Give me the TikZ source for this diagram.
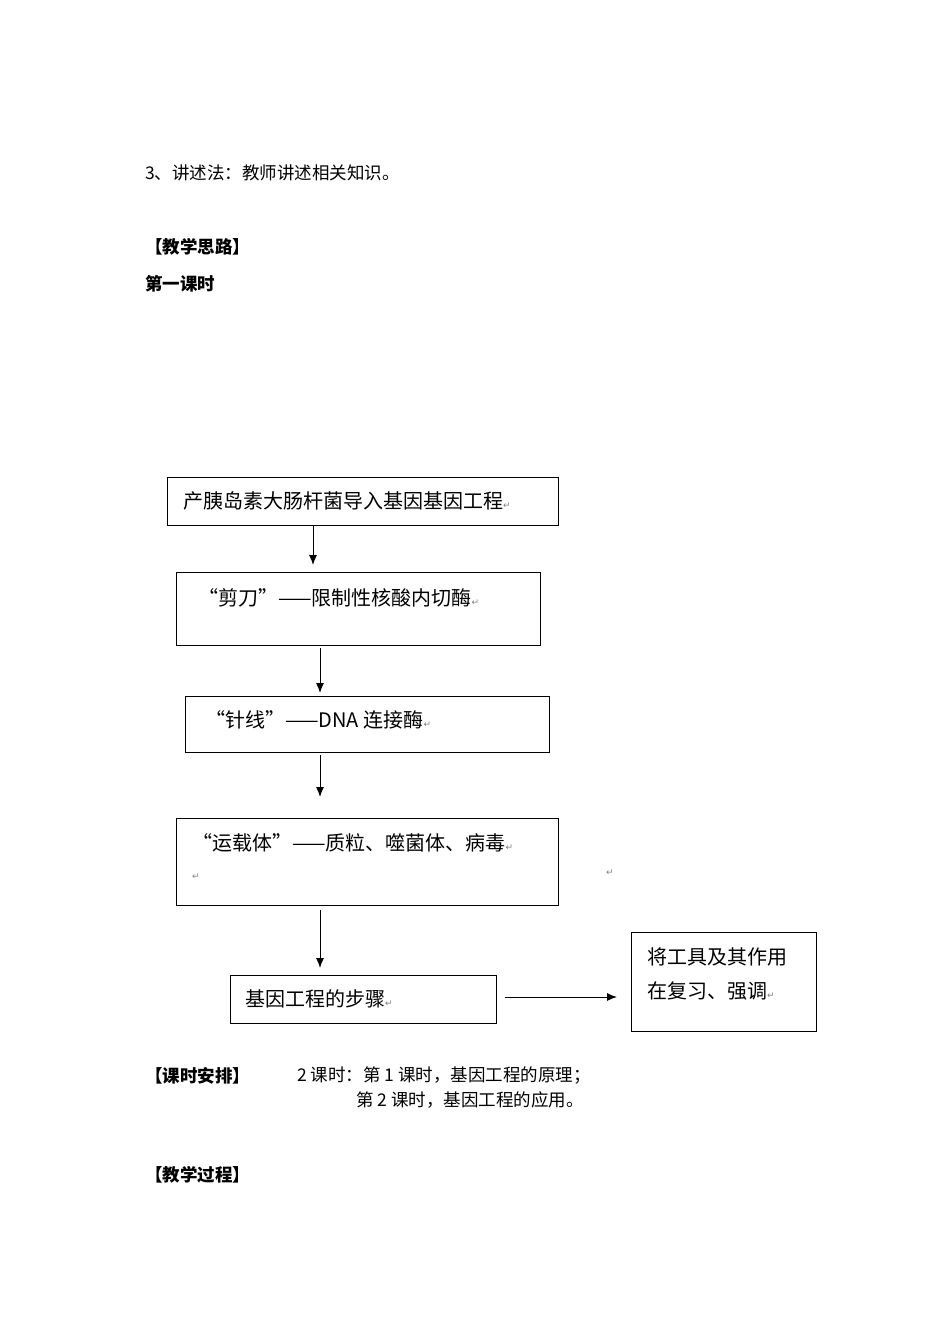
\documentclass[tikz,border=0pt]{standalone}
\usepackage{fontspec}
\usetikzlibrary{arrows.meta}
\setmainfont{Noto Sans CJK SC}
\newfontfamily\sym{DejaVu Sans}
\newcommand{\ret}{{\sym\fontsize{9pt}{9pt}\selectfont\color{gray}↵}}
\begin{document}
\begin{tikzpicture}[x=1pt,y=-1pt,
  bx/.style={draw,line width=0.9pt},
  tx/.style={anchor=west,inner sep=0pt,font=\fontsize{20pt}{24pt}\selectfont},
  pt/.style={anchor=west,inner sep=0pt,font=\fontsize{17.5pt}{21pt}\selectfont},
  hd/.style={anchor=west,inner sep=0pt,font=\fontsize{17.5pt}{21pt}\selectfont\bfseries},
  arr/.style={-{Latex[length=10pt,width=8pt]},line width=1pt}]
\useasboundingbox (0,0) rectangle (950,1344);
\node[pt] (t1) at (145,173) {3、讲述法：教师讲述相关知识。};
\node[hd] (t2) at (145,247) {【教学思路】};
\node[hd] (t3) at (145,284) {第一课时};
\draw[bx] (167,477) rectangle (558,525);
\node[tx] (b1) at (183,501) {产胰岛素大肠杆菌导入基因基因工程\ret};
\draw[bx] (176,572) rectangle (540,645);
\node[tx] (b2) at (198,598) {“剪刀”——限制性核酸内切酶\ret};
\draw[bx] (185,696) rectangle (549,752);
\node[tx] (b3) at (205,720) {“针线”——DNA 连接酶\ret};
\draw[bx] (176,818) rectangle (558,905);
\node[tx] (b4) at (192,843) {“运载体”——质粒、噬菌体、病毒\ret};
\node[tx] (b4r) at (192,877) {\ret};
\node[tx] (s) at (606,873) {\ret};
\draw[bx] (230,975) rectangle (496,1023);
\node[tx] (b5) at (245,999) {基因工程的步骤\ret};
\draw[bx] (631,932) rectangle (816,1031);
\node[tx] (b6a) at (647,957) {将工具及其作用};
\node[tx] (b6b) at (647,991) {在复习、强调\ret};
\coordinate (a1) at (313,525); \coordinate (a1e) at (313,565);
\coordinate (a2) at (320,648); \coordinate (a2e) at (320,693);
\coordinate (a3) at (320,755); \coordinate (a3e) at (320,797);
\coordinate (a4) at (320,910); \coordinate (a4e) at (320,968);
\coordinate (a5) at (505,997); \coordinate (a5e) at (617,997);
\draw[arr] (a1)--(a1e); \draw[arr] (a2)--(a2e); \draw[arr] (a3)--(a3e);
\draw[arr] (a4)--(a4e); \draw[arr] (a5)--(a5e);
\node[hd] (k1) at (145,1076) {【课时安排】};
\node[pt] (k2) at (297,1076) {2 课时：第 1 课时，基因工程的原理；};
\node[pt] (k3) at (356,1100) {第 2 课时，基因工程的应用。};
\node[hd] (k4) at (145,1175) {【教学过程】};
\end{tikzpicture}
\end{document}
